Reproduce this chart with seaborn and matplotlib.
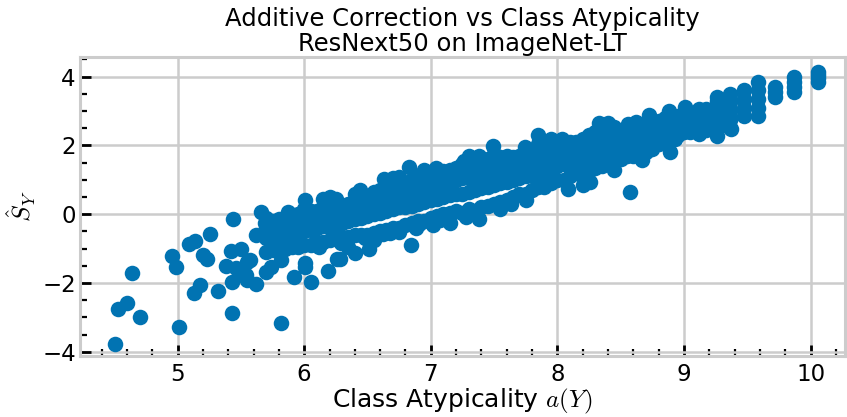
import pandas as pd
import matplotlib
matplotlib.use('Agg')
import matplotlib.pyplot as plt
import matplotlib.ticker as tkr
import seaborn as sns

# Scattered classes at the low-atypicality end and along the band edges
outlier_x = [4.51, 4.53, 4.60, 4.64, 4.70, 5.01, 4.96, 4.99, 5.09, 5.14,
             5.26, 5.20, 5.23, 5.13, 5.18, 5.32, 5.43, 5.44, 5.43, 5.38,
             5.42, 5.50, 5.55, 5.54, 5.62, 5.62, 5.66, 5.46, 5.52, 5.55,
             5.57, 5.69, 5.70, 5.74, 5.82, 5.80, 5.82, 5.87, 5.92, 6.01,
             6.05, 6.19, 6.28, 6.40, 6.29, 6.01, 6.15, 6.25, 6.40, 6.83,
             6.84, 6.01, 6.26, 6.51, 6.44, 6.63, 6.75, 6.62, 6.75, 7.38,
             7.49, 7.26, 7.04, 6.95, 7.85, 8.04, 7.74, 7.64, 7.07, 7.28,
             7.38, 7.63, 7.75, 7.89, 8.08, 6.91, 8.33, 8.45, 8.56, 8.62,
             8.72, 8.88, 9.01, 9.12, 9.26, 9.37, 8.57, 8.89, 8.80, 8.45,
             8.26, 8.67, 8.93, 9.12, 6.20, 6.35, 6.70, 7.15, 7.30, 7.55,
             7.95, 8.20, 8.40, 6.55, 6.12, 6.33, 6.48, 6.68, 6.88, 7.02]
outlier_y = [-3.77, -2.76, -2.59, -1.71, -2.99, -3.27, -1.21, -1.52, -0.87, -0.78,
             -0.58, -1.19, -1.30, -2.30, -2.06, -2.22, -2.86, -0.15, -1.96, -1.51,
             -1.06, -1.02, -1.38, -1.77, -2.04, -0.61, 0.07, -1.57, -1.77, -1.91,
             -1.33, -0.25, -1.67, -1.53, -3.15, -0.46, -1.33, 0.07, -1.82, -1.53,
             -1.96, -1.64, -1.30, -1.14, -0.85, 0.41, 0.43, 0.45, 0.60, 1.37,
             -0.90, -1.43, -1.29, -1.02, 0.70, 1.03, 1.08, -0.56, -0.51, 1.68,
             1.97, 1.55, 1.33, 1.28, 2.29, 2.19, 1.95, 1.61, -0.17, -0.08,
             -0.15, 0.31, 0.41, 0.79, 0.74, -0.27, 2.66, 2.53, 2.63, 2.68,
             2.87, 3.01, 3.11, 3.06, 2.26, 2.49, 0.64, 1.81, 2.05, 1.28,
             0.94, 1.57, 2.19, 2.34, 0.50, -0.95, 1.05, -0.25, 1.70, 0.15,
             2.20, 0.85, 2.65, -0.75, -0.95, -0.80, -0.70, -0.55, -0.40, -0.30]

# Dense band of classes: atypicality value and the corrections seen at it
band_x = [5.70, 5.75, 5.80, 5.85, 5.90, 5.95, 6.00, 6.05, 6.10, 6.15,
          6.20, 6.25, 6.30, 6.35, 6.40, 6.45, 6.50, 6.55, 6.60, 6.65,
          6.70, 6.75, 6.80, 6.85, 6.90, 6.95, 7.00, 7.05, 7.10, 7.15,
          7.20, 7.25, 7.30, 7.35, 7.40, 7.45, 7.50, 7.55, 7.60, 7.65,
          7.70, 7.75, 7.80, 7.85, 7.90, 7.95, 8.00, 8.05, 8.10, 8.15,
          8.20, 8.25, 8.30, 8.35, 8.40, 8.45, 8.50, 8.55, 8.60, 8.65,
          8.70, 8.75, 8.80, 8.85, 8.90, 8.95, 9.00, 9.05, 9.10]
band_y = [[-1.10, -0.70, -0.40, -0.10], [-1.05, -0.75, -0.45, -0.20],
          [-1.00, -0.60, -0.35, -0.15], [-1.00, -0.70, -0.30, -0.10],
          [-0.95, -0.55, -0.30, -0.05], [-0.95, -0.60, -0.20, 0.00],
          [-0.90, -0.50, -0.15, 0.15], [-0.90, -0.45, -0.20, 0.10],
          [-0.80, -0.40, -0.10, 0.10], [-0.80, -0.35, 0.00, 0.20],
          [-0.75, -0.40, -0.05, 0.15], [-0.70, -0.30, 0.05, 0.25],
          [-0.65, -0.25, 0.00, 0.20], [-0.65, -0.20, 0.10, 0.30],
          [-0.60, -0.15, 0.15, 0.35], [-0.60, -0.10, 0.20, 0.60],
          [-0.60, -0.05, 0.25, 0.50], [-0.55, 0.00, 0.30, 0.65],
          [-0.50, 0.05, 0.35, 0.70], [-0.45, 0.10, 0.45, 0.85],
          [-0.40, 0.15, 0.45, 0.80], [-0.40, 0.20, 0.55, 0.95],
          [-0.30, 0.20, 0.55, 0.90], [-0.25, 0.25, 0.60, 1.00],
          [-0.20, 0.30, 0.70, 1.10], [-0.20, 0.35, 0.75, 1.15],
          [-0.10, 0.40, 0.80, 1.20], [-0.05, 0.45, 0.85, 1.20],
          [0.00, 0.50, 0.85, 1.25], [0.05, 0.55, 0.95, 1.30],
          [0.10, 0.60, 1.00, 1.35], [0.05, 0.60, 1.05, 1.45],
          [0.15, 0.65, 1.05, 1.40], [0.10, 0.70, 1.15, 1.55],
          [0.20, 0.75, 1.15, 1.50], [0.25, 0.80, 1.20, 1.60],
          [0.30, 0.85, 1.30, 1.75], [0.35, 0.90, 1.30, 1.65],
          [0.40, 0.95, 1.35, 1.70], [0.50, 1.00, 1.35, 1.65],
          [0.60, 1.05, 1.40, 1.70], [0.60, 1.10, 1.45, 1.80],
          [0.70, 1.15, 1.50, 1.85], [0.80, 1.25, 1.60, 2.05],
          [0.95, 1.30, 1.60, 1.90], [0.90, 1.35, 1.65, 1.95],
          [1.00, 1.40, 1.70, 2.00], [1.00, 1.45, 1.75, 2.05],
          [1.10, 1.50, 1.80, 2.10], [1.20, 1.55, 1.85, 2.10],
          [1.20, 1.60, 1.90, 2.20], [1.25, 1.65, 2.00, 2.30],
          [1.35, 1.75, 2.05, 2.40], [1.40, 1.80, 2.05, 2.30],
          [1.50, 1.85, 2.10, 2.35], [1.50, 1.85, 2.10, 2.30],
          [1.60, 1.95, 2.20, 2.40], [1.70, 2.00, 2.25, 2.45],
          [1.70, 2.05, 2.30, 2.50], [1.75, 2.10, 2.35, 2.55],
          [1.80, 2.15, 2.45, 2.65], [1.90, 2.20, 2.45, 2.65],
          [2.10, 2.30, 2.50, 2.70], [2.10, 2.35, 2.60, 2.80],
          [2.20, 2.40, 2.60, 2.80], [2.30, 2.50, 2.70, 2.85],
          [2.40, 2.60, 2.75, 2.90], [2.40, 2.60, 2.75, 2.85],
          [2.50, 2.65, 2.80, 2.90]]

# Most atypical classes sit in a few discrete columns
tail_x = [9.17, 9.26, 9.36, 9.47, 9.58, 9.72, 9.87, 10.06]
tail_y = [[2.45, 2.65, 2.85, 3.05],
          [2.55, 2.80, 3.05, 3.30, 3.40],
          [2.50, 2.75, 3.00, 3.25, 3.50],
          [2.85, 3.10, 3.35, 3.60],
          [2.85, 3.10, 3.35, 3.60, 3.85],
          [3.40, 3.55, 3.70],
          [3.55, 3.70, 3.85, 4.00],
          [3.85, 3.95, 4.05, 4.12]]

# Build dataframe
rows = [(x, y) for x, y in zip(outlier_x, outlier_y)]
for x, ys in zip(band_x, band_y):
    rows += [(x, y) for y in ys]
for x, ys in zip(tail_x, tail_y):
    rows += [(x, y) for y in ys]
df = pd.DataFrame(rows, columns=['atypicality', 'correction'])

# Plot
sns.set_style('whitegrid', {'axes.edgecolor': '#cccccc', 'grid.color': '#cccccc'})
plt.rcParams['font.family'] = ['DejaVu Sans']
plt.rcParams['mathtext.fontset'] = 'cm'
plt.rcParams['text.color'] = 'black'
plt.rcParams['axes.labelcolor'] = 'black'
plt.rcParams['xtick.color'] = 'black'
plt.rcParams['ytick.color'] = 'black'
fig = plt.figure(figsize=(8.47, 4.17), dpi=100)
ax = fig.add_axes([0.0945, 0.1463, 0.903, 0.717])

color = sns.color_palette('colorblind')[0]
sns.scatterplot(x='atypicality', y='correction', data=df, ax=ax,
                color=color, s=125, linewidth=0, alpha=1.0)

ax.set_xlim(4.23, 10.27)
ax.set_ylim(-4.12, 4.57)
ax.xaxis.set_major_locator(tkr.MultipleLocator(1))
ax.xaxis.set_minor_locator(tkr.MultipleLocator(0.2))
ax.yaxis.set_major_locator(tkr.MultipleLocator(2))
ax.yaxis.set_minor_locator(tkr.MultipleLocator(0.5))
ax.tick_params(which='both', bottom=True, left=True, direction='in')
ax.tick_params(which='major', length=8, width=2.0, labelsize=16.5)
ax.tick_params(axis='x', which='major', pad=5)
ax.tick_params(axis='y', which='major', pad=3)
ax.tick_params(which='minor', length=5, width=1.6)
for sp in ax.spines.values():
    sp.set_linewidth(2.2)
    sp.set_zorder(3)
ax.grid(True, which='major', linewidth=1.8)
ax.grid(False, which='minor')

ax.set_title('Additive Correction vs Class Atypicality\nResNext50 on ImageNet-LT',
             fontsize=17.5, pad=4, linespacing=1.1)
ax.set_xlabel('Class Atypicality $a(Y)$', fontsize=18, labelpad=1)
ax.set_ylabel(r'$\hat{S}_Y$', fontsize=18, labelpad=3)

# Save
plt.savefig('out.png', dpi=100)
